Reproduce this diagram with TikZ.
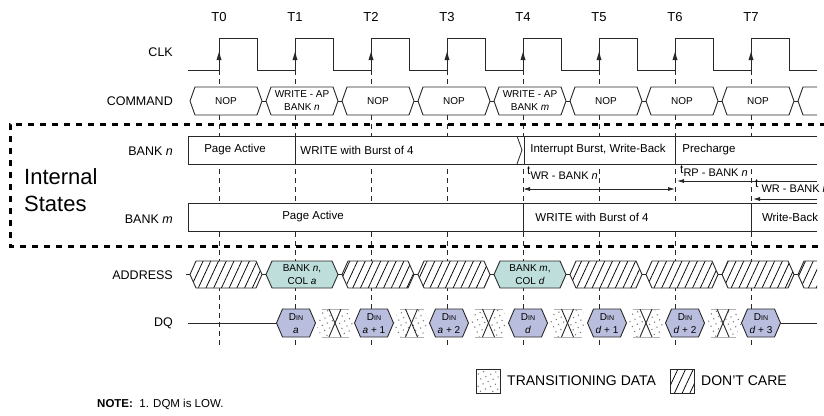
\documentclass[tikz,border=0pt]{standalone}
\usepackage{fontspec}
\setmainfont{Liberation Sans}
\usetikzlibrary{arrows.meta,patterns.meta}
\definecolor{dinfill}{RGB}{186,190,222}
\definecolor{addrfill}{RGB}{190,222,220}
\definecolor{ln}{RGB}{40,40,40}
\newcommand\fsz[1]{\fontsize{#1}{#1}\selectfont}
\newcommand\hexbox[6]{\path[#6] (#1,{(#3+#4)/2}) -- ({#1+#5},#3) -- ({#2-#5},#3) -- (#2,{(#3+#4)/2}) -- ({#2-#5},#4) -- ({#1+#5},#4) -- cycle;}
\newcommand\tsym{{\fsz{12}t}}
\tikzset{
  wave/.style={draw=ln, line width=0.9pt, line join=miter},
  thinw/.style={draw=ln, line width=0.8pt},
  tickline/.style={draw=ln, line width=0.8pt, dash pattern=on 5pt off 4pt},
  isbox/.style={draw=black, line width=3pt, dash pattern=on 6pt off 6pt},
  lbl/.style={anchor=east, font=\fsz{12.5}, inner sep=0pt},
  tlbl/.style={font=\fsz{13}, inner sep=0pt},
  cmdtxt/.style={font=\fontsize{10}{13}\selectfont, align=center, inner sep=0pt},
  banktxt/.style={font=\fsz{11.5}, inner sep=0pt},
  tmtxt/.style={font=\fsz{11}, anchor=west, inner sep=0pt},
  dcfill/.style={fill=white, postaction={pattern={Lines[angle=65,distance=7pt,line width=0.75pt]}, pattern color=black}},
  tealfill/.style={fill=addrfill},
  trfill/.style={fill=white, postaction={pattern={Dots[angle=25,distance=5.5pt,radius=0.75pt]}, pattern color=black!55}},
  arr/.style={draw=ln, line width=0.8pt},
  tip/.tip={Latex[length=7pt,width=4pt]}
}
\begin{document}
\begin{tikzpicture}[x=1pt,y=-1pt]
\useasboundingbox (0,0) rectangle (824,415);
% time labels and dashed verticals
\foreach \k in {0,...,7}{
  \pgfmathsetmacro\tx{219+76*\k}
  \node[tlbl] (T\k) at (\tx,17) {T\k};
  \draw[tickline] (\tx,70) -- (\tx,347);
}
% clock
\node[lbl] (clkl) at (173,52) {CLK};
\draw[wave] (188,70) \foreach \k in {0,...,7}{ -- ({219+76*\k},70) -- ({219+76*\k},38) -- ({257+76*\k},38) -- ({257+76*\k},70)} -- (817,70);
\foreach \k in {0,...,7}{
  \pgfmathsetmacro\tx{219+76*\k}
  \fill[ln] (\tx,52) -- ({\tx-2.5},60) -- ({\tx+2.5},60) -- cycle;
}
% command row
\node[lbl] (cmdl) at (173,101) {COMMAND};
\foreach \k in {0,...,7}{
  \pgfmathsetmacro\xa{190+76*\k}
  \pgfmathsetmacro\xb{262+76*\k}
  \hexbox{\xa}{\xb}{87}{115}{5}{wave, fill=white}
  \draw[wave] (\xb,101) -- ({\xb+4},101);
}
\draw[wave, fill=white] (817,87) -- (803,87) -- (798,101) -- (803,115) -- (817,115);
\foreach \k/\t in {0/NOP, 1/{WRITE - AP\\BANK \textit{n}}, 2/NOP, 3/NOP, 4/{WRITE - AP\\BANK \textit{m}}, 5/NOP, 6/NOP, 7/NOP}{
  \node[cmdtxt] (cmd\k) at ({226+76*\k},101) {\t};
}
% bank n
\node[lbl] (bnl) at (173,151) {BANK \textit{n}};
\fill[white] (188,136) rectangle (817,164);
\draw[thinw] (817,136) -- (188,136) -- (188,164) -- (817,164);
\draw[thinw] (295,136) -- (295,164);
\draw[thinw] (517,136) -- (522,150) -- (517,164);
\draw[thinw] (524,136) -- (524,164);
\draw[thinw] (675,136) -- (675,164);
\node[banktxt] (bn1) at (235,150) {Page Active};
\node[banktxt] (bn2) at (357,150) {WRITE with Burst of 4};
\node[banktxt] (bn3) at (598,150) {Interrupt Burst, Write-Back};
\node[banktxt] (bn4) at (709,150) {Precharge};
% bank m
\node[lbl] (bml) at (173,219) {BANK \textit{m}};
\fill[white] (188,203) rectangle (817,231);
\draw[thinw] (817,203) -- (188,203) -- (188,231) -- (817,231);
\draw[thinw] (523,203) -- (523,231);
\draw[thinw] (751,203) -- (751,231);
\node[banktxt] (bm1) at (313,217) {Page Active};
\node[banktxt] (bm2) at (592,217) {WRITE with Burst of 4};
\node[banktxt] (bm3) at (790,217) {Write-Back};
% timing annotations
\node[tmtxt] (twr) at (527,173) {\tsym\raisebox{-4.5pt}{WR - BANK \textit{n}}};
\coordinate (twra) at (523,189);
\coordinate (twrb) at (675,189);
\draw[arr, tip-tip] (twra) -- (twrb);
\node[tmtxt] (trp) at (680,171) {\tsym\raisebox{-2.5pt}{RP - BANK \textit{n}}};
\coordinate (trpa) at (817,181);
\coordinate (trpb) at (677,181);
\draw[arr, -tip] (trpa) -- (trpb);
\node[tmtxt] (twr2) at (755,186) {\tsym\raisebox{-4.5pt}{ WR - BANK \textit{n}}};
\coordinate (twr2a) at (817,199);
\coordinate (twr2b) at (753,199);
\draw[arr, -tip] (twr2a) -- (twr2b);
% internal states box
\draw[isbox] (826,124) -- (10,124) -- (10,246) -- (826,246);
\node[font=\fsz{22}, anchor=west, inner sep=0pt] (is1) at (24,177) {Internal};
\node[font=\fsz{22}, anchor=west, inner sep=0pt] (is2) at (24,204) {States};
% address row
\node[lbl] (adl) at (173,275) {ADDRESS};
\draw[wave] (186,274.5) -- (190,274.5);
\foreach \k/\s in {0/dcfill, 1/tealfill, 2/dcfill, 3/dcfill, 4/tealfill, 5/dcfill, 6/dcfill, 7/dcfill}{
  \pgfmathsetmacro\xa{190+76*\k}
  \pgfmathsetmacro\xb{262+76*\k}
  \hexbox{\xa}{\xb}{261}{288}{6}{\s}
  \hexbox{\xa}{\xb}{261}{288}{6}{wave}
  \draw[wave] (\xb,274.5) -- ({\xb+4},274.5);
}
\path[dcfill] (817,261) -- (804,261) -- (798,274.5) -- (804,288) -- (817,288) -- cycle;
\draw[wave] (817,261) -- (804,261) -- (798,274.5) -- (804,288) -- (817,288);
\node[cmdtxt] (ad1) at (302,275) {BANK \textit{n},\\COL \textit{a}};
\node[cmdtxt] (ad4) at (530,275) {BANK \textit{m},\\COL \textit{d}};
% DQ row
\node[lbl] (dql) at (173,323) {DQ};
\draw[wave] (188,323) -- (276.5,323);
\draw[wave] (780.5,323) -- (817,323);
\foreach \ca/\cb in {296/374, 374/449, 449/528, 528/607, 607/685, 685/761}{
  \pgfmathsetmacro\r{\ca+19.5}
  \pgfmathsetmacro\l{\cb-19.5}
  \pgfmathsetmacro\m{(\r+\l)/2}
  \hexbox{\r}{\m}{309}{337}{6}{trfill}
  \hexbox{\m}{\l}{309}{337}{6}{trfill}
  \draw[gray!60, line width=0.6pt] ({\r+6},309) -- ({\l-6},309);
  \draw[gray!60, line width=0.6pt] ({\r+6},337) -- ({\l-6},337);
  \draw[wave] ({\m-6},309) -- ({\m+6},337);
  \draw[wave] ({\m-6},337) -- ({\m+6},309);
}
\foreach \c/\t [count=\i] in {296/{\textit{a}}, 374/{\textit{a} + 1}, 449/{\textit{a} + 2}, 528/{\textit{d}}, 607/{\textit{d} + 1}, 685/{\textit{d} + 2}, 761/{\textit{d} + 3}}{
  \hexbox{\c-19.5}{\c+19.5}{309}{337}{6}{wave, fill=dinfill}
  \node[cmdtxt] (din\i) at (\c,323.5) {D{\fsz{7}IN}\\\t};
}
% legend
\path[trfill] (476,369) rectangle (500,393);
\draw[ln, line width=0.6pt] (476,369) rectangle (500,393);
\node[font=\fsz{14}, anchor=west, inner sep=0pt] (lg1) at (507,381) {TRANSITIONING DATA};
\path[dcfill] (670,369) rectangle (694,393);
\draw[ln, line width=0.6pt] (670,369) rectangle (694,393);
\node[font=\fsz{14}, anchor=west, inner sep=0pt] (lg2) at (701,381) {DON'T CARE};
% note
\node[font=\fsz{11.5}, anchor=west, inner sep=0pt] (note) at (97,404) {\textbf{NOTE:}\ \ 1. DQM is LOW.};
\end{tikzpicture}
\end{document}
